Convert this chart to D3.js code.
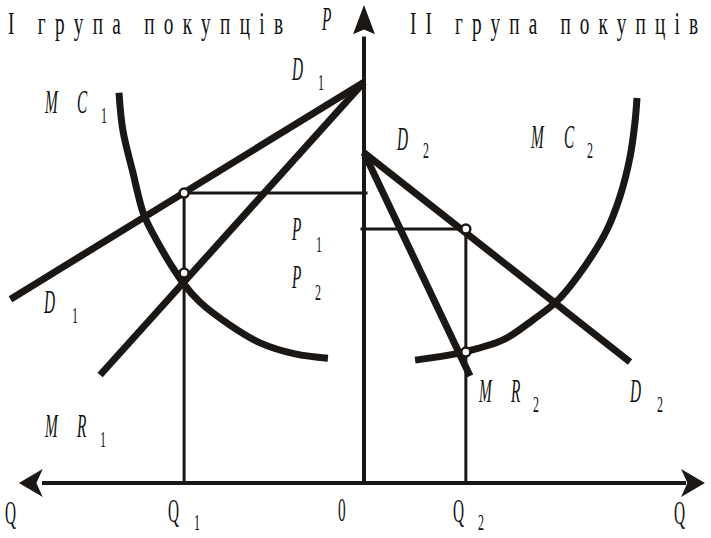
<!DOCTYPE html>
<html><head><meta charset="utf-8">
<script src="https://cdn.jsdelivr.net/npm/d3@7"></script>
<style>html,body{margin:0;padding:0;background:#fff}</style>
</head><body>
<svg id="c" width="711" height="538"></svg>
<script>
// ---- data (quantity q, price p in chart units) ----
const demand1 = [{q:0,p:83.5},{q:101,p:38.3}];
const marginalRevenue1 = [{q:0,p:83.5},{q:75.4,p:22.5}];
const marginalCost1 = [{q:70,p:81.3},{q:68.9,p:73.5},{q:66,p:64.6},{q:63.1,p:56.3},{q:60.5,p:52.2},{q:51.7,p:41.7},{q:46.9,p:37.7},{q:38.3,p:32.9},{q:29.7,p:29.2},{q:19.7,p:26.9},{q:10.3,p:26.0}];
const demand2 = [{q:0,p:68.8},{q:76,p:25.2}];
const marginalRevenue2 = [{q:0,p:68.8},{q:30.3,p:22.3}];
const marginalCost2 = [{q:14.6,p:25.6},{q:27.4,p:27.1},{q:39.7,p:29.8},{q:48.3,p:34.0},{q:55.4,p:38.1},{q:63.7,p:45.8},{q:69.4,p:52.7},{q:73.1,p:59.6},{q:76,p:67.9},{q:77.4,p:75},{q:78,p:80.2}];
const groupQ = [51.4, 29.1];        // Q1, Q2
const groupPrice = [60.4, 52.9];    // P1, P2
const groupLow = [43.75, 27.3];     // MR1 / MC2 points
const titles = ["I група покупців", "II група покупців"];

// ---- scales ----
const xL = d3.scaleLinear().domain([0,100]).range([364,14]);
const xR = d3.scaleLinear().domain([0,100]).range([364,714]);
const y = d3.scaleLinear().domain([0,100]).range([483,3]);
const ink = "#1b1714";
const svg = d3.select("#c");

const lineL = d3.line().x(d=>xL(d.q)).y(d=>y(d.p));
const lineR = d3.line().x(d=>xR(d.q)).y(d=>y(d.p));
const curveL = d3.line().x(d=>xL(d.q)).y(d=>y(d.p)).curve(d3.curveCatmullRom.alpha(0.5));
const curveR = d3.line().x(d=>xR(d.q)).y(d=>y(d.p)).curve(d3.curveCatmullRom.alpha(0.5));

// thin guide lines
const g = svg.append("g").attr("stroke", ink).attr("stroke-width", 3).attr("fill","none");
g.append("line").attr("x1", xL(groupQ[0])).attr("x2", xL(groupQ[0])).attr("y1", y(0)).attr("y2", y(groupPrice[0]));
g.append("line").attr("x1", xL(groupQ[0])).attr("x2", xR(1)).attr("y1", y(groupPrice[0])).attr("y2", y(groupPrice[0]));
g.append("line").attr("x1", xR(groupQ[1])).attr("x2", xR(groupQ[1])).attr("y1", y(0)).attr("y2", y(groupPrice[1]));
g.append("line").attr("x1", xL(1)).attr("x2", xR(groupQ[1])).attr("y1", y(groupPrice[1])).attr("y2", y(groupPrice[1]));

// axes
const ax = svg.append("g").attr("stroke", ink).attr("stroke-width", 4).attr("fill","none");
ax.append("line").attr("x1", xR(0)).attr("x2", xR(0)).attr("y1", y(0)).attr("y2", y(93));
ax.append("line").attr("x1", xL(92)).attr("x2", xR(92)).attr("y1", y(0)).attr("y2", y(0));
const heads = svg.append("g").attr("fill", ink);
const cx = xR(0), cy = y(0);
heads.append("path").attr("d", `M${cx},${y(99.6)} L${cx+11},${y(93.5)} L${cx},${y(94.5)} L${cx-11},${y(93.5)} Z`);
heads.append("path").attr("d", `M${xL(98.6)},${cy} L${xL(91.8)},${cy-14} L${xL(93.6)},${cy} L${xL(91.8)},${cy+14} Z`);
heads.append("path").attr("d", `M${xR(97.4)},${cy} L${xR(90.6)},${cy-14} L${xR(92.4)},${cy} L${xR(90.6)},${cy+14} Z`);

// main curves
const m = svg.append("g").attr("stroke", ink).attr("stroke-width", 7).attr("fill","none").attr("stroke-linejoin","round");
m.append("path").attr("d", lineL(demand1));
m.append("path").attr("d", lineL(marginalRevenue1));
m.append("path").attr("d", curveL(marginalCost1));
m.append("path").attr("d", lineR(demand2));
m.append("path").attr("d", lineR(marginalRevenue2));
m.append("path").attr("d", curveR(marginalCost2));

// points
const pts = [[xL(groupQ[0]), y(groupPrice[0])],[xL(groupQ[0]), y(groupLow[0])],[xR(groupQ[1]), y(groupPrice[1])],[xR(groupQ[1]), y(groupLow[1])]];
svg.append("g").selectAll("circle").data(pts).join("circle")
  .attr("cx", d=>d[0]).attr("cy", d=>d[1]).attr("r", 4.5)
  .attr("fill","#fff").attr("stroke", ink).attr("stroke-width", 2.5);

// text helpers
const tg = svg.append("g").attr("fill", "#111").attr("font-family", "'Liberation Serif','Times New Roman',serif");
function letter(t, x, yy, opts={}) {
  const size = opts.size || 34, sx = opts.sx || 0.45;
  tg.append("text").attr("transform", `translate(${x},${yy}) scale(${sx},1)`)
    .attr("font-size", size).attr("font-style", opts.italic===false ? "normal" : "italic").text(t);
}
function sub(t, x, yy) { letter(t, x, yy, {size:24, sx:0.5, italic:false}); }

// titles
function title(t, x0, x1, yy) {
  const sx = 0.62;
  tg.append("text").attr("transform", `translate(${x0},${yy}) scale(${sx},1)`)
    .attr("font-size", 31).attr("textLength", (x1-x0)/sx).attr("lengthAdjust","spacing").text(t);
}
title(titles[0], 8, 283, 34);
title(titles[1], 410, 698, 34);

letter("P", 322, 30);
letter("D", 292, 80); sub("1", 318, 90);
letter("M", 45, 113); letter("C", 77, 113); sub("1", 101, 123);
letter("D", 44, 313); sub("1", 72, 323);
letter("M", 45, 437); letter("R", 77, 437); sub("1", 100, 447);
letter("P", 292, 240); sub("1", 316, 252);
letter("P", 292, 288); sub("2", 315, 300);
letter("D", 397, 150); sub("2", 423, 158);
letter("M", 531, 148); letter("C", 564, 148); sub("2", 587, 158);
letter("M", 479, 402); letter("R", 511, 402); sub("2", 533, 412);
letter("D", 630, 402); sub("2", 657, 412);
letter("Q", 5, 524, {italic:false});
letter("Q", 168, 522, {italic:false}); sub("1", 194, 530);
letter("0", 338, 521, {italic:false});
letter("Q", 453, 522, {italic:false}); sub("2", 478, 530);
letter("Q", 674, 524, {italic:false});
</script>
</body></html>
